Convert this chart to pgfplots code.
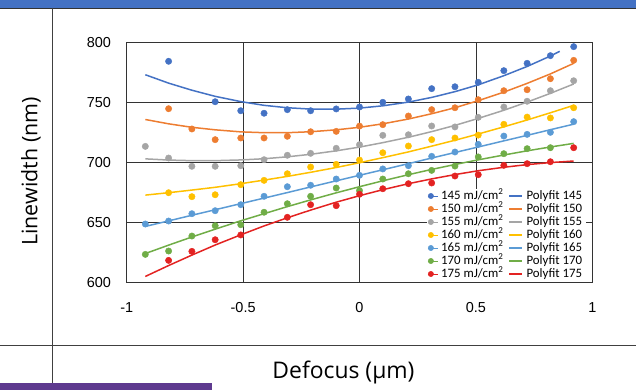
\documentclass[border=0pt]{standalone}
\usepackage{pgfplots}
\pgfplotsset{compat=1.18}
\usepackage{fontspec}
\setmainfont{Liberation Sans}
\newfontfamily\labfont{Open Sans}
\newfontfamily\legfont{Carlito}
\definecolor{c145}{HTML}{4472C4}
\definecolor{c150}{HTML}{ED7D31}
\definecolor{c155}{HTML}{A5A5A5}
\definecolor{c160}{HTML}{FFC000}
\definecolor{c165}{HTML}{5B9BD5}
\definecolor{c170}{HTML}{70AD47}
\definecolor{c175}{HTML}{E32322}
\definecolor{topbar}{HTML}{4472C4}
\definecolor{purp}{HTML}{5E3A8F}
\pgfplotsset{
  scat/.style={only marks, mark=*, mark size=3.2bp, #1,
    legend image code/.code={\path (-3bp,0bp) -- (7bp,0bp); \draw[##1, mark size=2.7bp] plot coordinates {(0bp,0bp)};}},
  fit/.style={no marks, #1, line width=1.5bp,
    legend image code/.code={\draw[##1, line width=2.6bp] (0bp,0bp) -- (13bp,0bp);}},
}
\begin{document}
\begin{tikzpicture}[x=1bp,y=1bp]
\path[use as bounding box] (0,0) rectangle (636,390);
% decorative frame
\fill[topbar] (0,390) rectangle (636,382);
\draw[black!80,line width=0.8bp] (0,382) -- (636,382);
\draw[black!75,line width=0.8bp] (52,382) -- (52,0);
\draw[black!75,line width=0.8bp] (0,45) -- (636,45);
\fill[purp] (0,0) rectangle (212,7);
\begin{axis}[
  at={(126.7bp,107.3bp)}, anchor=south west,
  scale only axis, width=465.6bp, height=240bp,
  xmin=-1, xmax=1, ymin=600, ymax=800,
  xtick={-1,-0.5,0,0.5,1},
  xticklabels={-1,-0.5,0,0.5,1},
  ytick={600,650,700,750,800},
  yticklabels={600,650,700,750,800},
  grid=major,
  major grid style={black!80,line width=0.8bp},
  axis line style={black!80,line width=0.8bp},
  major tick length=0pt,
  tick label style={font=\fontsize{14.5}{16}\selectfont},
  xticklabel style={yshift=-16bp},
  yticklabel style={xshift=-12.3bp},
  clip=false,
  legend columns=2,
  legend cell align=left,
  legend style={at={(1,0)}, anchor=south east, xshift=-6bp, yshift=1bp,
    draw=none, fill=white,
    font=\legfont\fontsize{12.9}{13}\selectfont, inner xsep=1bp, inner ysep=1bp,
    nodes={inner xsep=3bp, inner ysep=0.5bp, text height=9bp, text depth=3bp},
    row sep=0bp,
    /tikz/every even column/.append style={column sep=1.6bp}},
]
\addplot[scat=c145] coordinates {(-0.82,784.5) (-0.62,750.8) (-0.51,743.3) (-0.41,741.2) (-0.31,744.2) (-0.21,743.3) (-0.10,744.8) (0,746.4) (0.10,750.3) (0.21,753.1) (0.31,761.7) (0.41,763.3) (0.51,767) (0.62,776.7) (0.72,782.8) (0.82,789.2) (0.92,796.7)};
\addlegendentry{145 mJ/cm\textsuperscript{2}}
\addplot[fit=c145] coordinates {(-0.92,773.3) (-0.82,766.3) (-0.72,760.4) (-0.62,755.3) (-0.51,750.9) (-0.41,747.8) (-0.31,745.8) (-0.21,744.7) (-0.10,744.6) (0,745.5) (0.10,747.4) (0.21,750.5) (0.31,754.4) (0.41,759.2) (0.51,764.9) (0.62,772.5) (0.72,780.2) (0.82,788.9) (0.86,792.8)};
\addlegendentry{Polyfit 145}
\addplot[scat=c150] coordinates {(-0.82,745) (-0.72,728.1) (-0.62,719.2) (-0.51,720.6) (-0.41,720.6) (-0.31,722) (-0.21,725.8) (-0.10,726.1) (0,730.5) (0.10,731.7) (0.21,738.9) (0.31,744.2) (0.41,745.8) (0.51,752.5) (0.62,760) (0.72,760.8) (0.82,770) (0.92,785.3)};
\addlegendentry{150 mJ/cm\textsuperscript{2}}
\addplot[fit=c150] coordinates {(-0.92,736.0) (-0.82,732.4) (-0.72,729.5) (-0.62,727.4) (-0.51,725.7) (-0.41,725.0) (-0.31,725.0) (-0.21,725.8) (-0.10,727.4) (0,729.5) (0.10,732.4) (0.21,736.4) (0.31,740.8) (0.41,745.8) (0.51,751.7) (0.62,758.8) (0.72,766.1) (0.82,774.0) (0.92,782.8)};
\addlegendentry{Polyfit 150}
\addplot[scat=c155] coordinates {(-0.92,713.6) (-0.82,703.9) (-0.72,697) (-0.62,697) (-0.51,697.5) (-0.41,702.5) (-0.31,706.2) (-0.21,707.8) (-0.10,712) (0,715) (0.10,722.8) (0.21,723.3) (0.31,730.6) (0.41,729.8) (0.51,737.8) (0.62,746.4) (0.72,751.2) (0.82,760) (0.92,768.3)};
\addlegendentry{155 mJ/cm\textsuperscript{2}}
\addplot[fit=c155] coordinates {(-0.92,703.2) (-0.82,702.2) (-0.72,701.7) (-0.62,701.7) (-0.51,702.3) (-0.41,703.3) (-0.31,704.9) (-0.21,707.0) (-0.10,709.9) (0,713) (0.10,716.7) (0.21,721.2) (0.31,725.9) (0.41,731.1) (0.51,736.9) (0.62,743.7) (0.72,750.5) (0.82,757.8) (0.92,765.6)};
\addlegendentry{Polyfit 155}
\addplot[scat=c160] coordinates {(-0.82,675) (-0.72,671.7) (-0.62,673.3) (-0.51,681.7) (-0.41,685.3) (-0.31,690.8) (-0.21,696.4) (-0.10,698.6) (0,702.2) (0.10,708.3) (0.21,713.9) (0.31,719.2) (0.41,720.6) (0.51,723) (0.62,732) (0.72,738) (0.82,737.3) (0.92,745.8)};
\addlegendentry{160 mJ/cm\textsuperscript{2}}
\addplot[fit=c160] coordinates {(-0.92,673.0) (-0.82,675.0) (-0.72,677.2) (-0.62,679.5) (-0.51,682.5) (-0.41,685.5) (-0.31,688.6) (-0.21,692.0) (-0.10,696.0) (0,700) (0.10,704.2) (0.21,709.0) (0.31,713.8) (0.41,718.7) (0.51,723.9) (0.62,729.9) (0.72,735.6) (0.82,741.6) (0.92,747.8)};
\addlegendentry{Polyfit 160}
\addplot[scat=c165] coordinates {(-0.92,648.9) (-0.82,651.4) (-0.72,657.5) (-0.62,660) (-0.51,665) (-0.41,672) (-0.31,680) (-0.21,681.2) (-0.10,686.4) (0,689.5) (0.10,694.8) (0.21,697.5) (0.31,705.3) (0.41,708.9) (0.51,715.3) (0.62,722.2) (0.72,723.6) (0.82,725.3) (0.92,734.2)};
\addlegendentry{165 mJ/cm\textsuperscript{2}}
\addplot[fit=c165] coordinates {(-0.92,646.9) (-0.82,651.5) (-0.72,656.2) (-0.62,660.8) (-0.51,665.9) (-0.41,670.5) (-0.31,675.1) (-0.21,679.8) (-0.10,684.9) (0,689.5) (0.10,694.1) (0.21,699.2) (0.31,703.9) (0.41,708.5) (0.51,713.1) (0.62,718.2) (0.72,722.8) (0.82,727.5) (0.92,732.1)};
\addlegendentry{Polyfit 165}
\addplot[scat=c170] coordinates {(-0.92,623.6) (-0.82,626.4) (-0.72,638.9) (-0.62,647.5) (-0.51,648.3) (-0.41,658.7) (-0.31,665.8) (-0.21,672) (-0.10,678.9) (0,676.8) (0.10,686.4) (0.21,690.8) (0.31,693.6) (0.41,697.2) (0.51,704.8) (0.62,707.5) (0.72,711.7) (0.82,712.5)};
\addlegendentry{170 mJ/cm\textsuperscript{2}}
\addplot[fit=c170] coordinates {(-0.92,624.3) (-0.82,631.3) (-0.72,638.1) (-0.62,644.6) (-0.51,651.6) (-0.41,657.5) (-0.31,663.4) (-0.21,669.0) (-0.10,674.9) (0,680) (0.10,684.9) (0.21,690.0) (0.31,694.4) (0.41,698.5) (0.51,702.4) (0.62,706.4) (0.72,709.9) (0.82,713.1) (0.92,716.1)};
\addlegendentry{Polyfit 170}
\addplot[scat=c175] coordinates {(-0.82,618.6) (-0.72,626.1) (-0.62,635.8) (-0.51,639.8) (-0.31,654.5) (-0.21,665) (-0.10,664.2) (0,673.7) (0.10,678.3) (0.21,682.5) (0.31,683.1) (0.41,688.9) (0.51,690) (0.62,697.8) (0.72,699.2) (0.82,700.8) (0.92,712.5)};
\addlegendentry{175 mJ/cm\textsuperscript{2}}
\addplot[fit=c175] coordinates {(-0.92,605.2) (-0.82,614.3) (-0.72,623.0) (-0.62,631.4) (-0.51,639.9) (-0.41,647.3) (-0.31,654.1) (-0.21,660.5) (-0.10,667.1) (0,672.5) (0.10,677.5) (0.21,682.5) (0.31,686.5) (0.41,690.1) (0.51,693.3) (0.62,696.2) (0.72,698.4) (0.82,700.1) (0.92,701.4)};
\addlegendentry{Polyfit 175}
\end{axis}
\node[font=\labfont\fontsize{21.5}{24}\selectfont, rotate=90] at (31,218.5) {Linewidth (nm)};
\node[font=\labfont\fontsize{23}{26}\selectfont] at (343.5,18) {Defocus (µm)};
\end{tikzpicture}
\end{document}
